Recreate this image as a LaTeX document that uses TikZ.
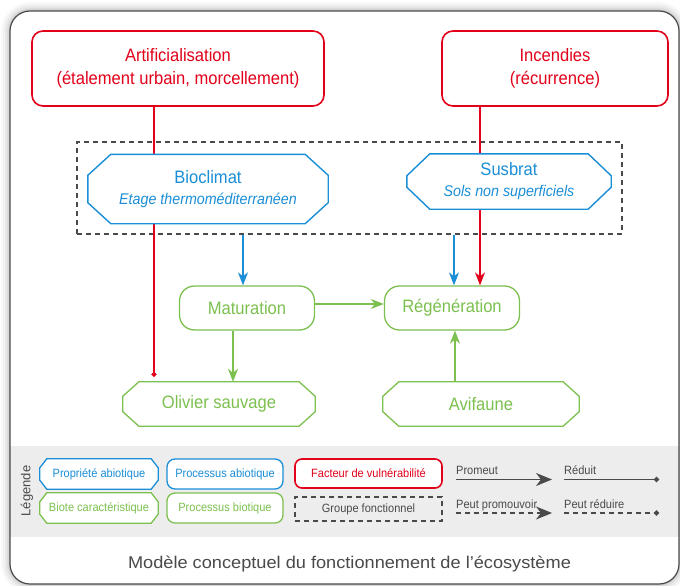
\documentclass[tikz,border=0pt]{standalone}
\usepackage{fontspec}
\setmainfont{Liberation Sans}[FakeStretch=0.92]
\newfontfamily\capfont{Liberation Sans}[FakeStretch=1.07]
\newfontfamily\legfont{Liberation Sans}
\usetikzlibrary{arrows.meta,calc}
\definecolor{cred}{HTML}{E2001A}
\definecolor{cblue}{HTML}{1A8ED6}
\definecolor{cgreen}{HTML}{7CC04F}
\definecolor{cgrey}{HTML}{4A4A4A}
\definecolor{cband}{HTML}{EDEDED}
\pgfdeclarelayer{bg}
\pgfdeclarelayer{edges}
\pgfdeclarelayer{shapes}
\pgfsetlayers{bg,edges,shapes,main}
\newcommand\chamf[5]{% node, colour, hx, vy, width
  \begin{pgfonlayer}{shapes}
  \path[draw=#2, fill=white, line width=#5, line join=miter]
    ([xshift=#3]#1.north west) -- ([xshift=-#3]#1.north east)
    -- ([yshift=-#4]#1.north east) -- ([yshift=#4]#1.south east)
    -- ([xshift=-#3]#1.south east) -- ([xshift=#3]#1.south west)
    -- ([yshift=#4]#1.south west) -- ([yshift=-#4]#1.north west) -- cycle;
  \end{pgfonlayer}}
\begin{document}
\begin{tikzpicture}[x=1pt,y=-1pt,
  big/.style={font=\fontsize{18}{23.5}\selectfont, align=center, inner sep=0pt},
  mid/.style={font=\fontsize{18}{21}\selectfont, align=center, inner sep=0pt},
  small/.style={font=\fontsize{12}{14}\selectfont, align=center, inner sep=0pt},
  redbox/.style={draw=cred, text=cred, line width=1.6pt, fill=white},
  bluebox/.style={draw=cblue, text=cblue, line width=1.4pt, fill=white},
  greenbox/.style={draw=cgreen, text=cgreen, line width=1.3pt, fill=white},
  conn/.style={line width=1.3pt},
  arr/.style={conn, -{Stealth[length=13pt,width=10pt,inset=4pt]}},
  bigarr/.style={conn, -{Stealth[length=16pt,width=13pt,inset=5pt]}},
  dotend/.style={conn, -{Circle[length=5pt]}},
  ldash/.style={dash pattern=on 5pt off 4pt}
]
\useasboundingbox (0,0) rectangle (680,586);

% ---------- frame, band, group box ----------
\begin{pgfonlayer}{bg}
  \foreach \d/\r/\o in {9/29/0.025,7/27/0.03,5/25/0.04,3/23/0.05,1.5/21.5/0.06}
    \fill[black, opacity=\o, rounded corners=\r] (10-\d,11-\d) rectangle (679+\d,584+\d);
  \fill[white, rounded corners=20] (10,11) rectangle (679,584);
  \fill[cband] (10,446) rectangle (679,537);
  \draw[cgrey, line width=1.2pt, rounded corners=20] (10,11) rectangle (679,584);
  \node[draw=cgrey, ldash, line width=1.2pt, minimum width=545pt, minimum height=92pt, inner sep=0pt] (grp) at (349.5,188) {};
\end{pgfonlayer}

% ---------- main nodes ----------
\node[big, redbox, rounded corners=11pt, minimum width=292pt, minimum height=75pt] (art) at (178,68.5)
  {Artificialisation\\(étalement urbain, morcellement)};
\node[big, redbox, rounded corners=11pt, minimum width=226pt, minimum height=75pt] (inc) at (555,68.5)
  {Incendies\\(récurrence)};

\node[mid, text=cblue, minimum width=240pt, minimum height=69pt] (bio) at (208,189)
  {Bioclimat\\{\itshape\fontsize{15.5}{18}\selectfont Etage thermoméditerranéen}};
\chamf{bio}{cblue}{23}{21}{1.4pt}
\node[mid, text=cblue, minimum width=204pt, minimum height=55pt] (sus) at (509,181.5)
  {Susbrat\\{\itshape\fontsize{15.5}{18}\selectfont Sols non superficiels}};
\chamf{sus}{cblue}{23}{22}{1.4pt}

\node[big, greenbox, rounded corners=15pt, minimum width=135pt, minimum height=44pt] (mat) at (247,308) {Maturation};
\node[big, greenbox, rounded corners=15pt, minimum width=135pt, minimum height=44pt] (reg) at (452,308) {Régénération};

\node[big, text=cgreen, minimum width=192pt, minimum height=44pt] (oli) at (219,404) {Olivier sauvage};
\chamf{oli}{cgreen}{16}{14.5}{1.3pt}
\node[big, text=cgreen, minimum width=196pt, minimum height=44pt] (avi) at (481,404) {Avifaune};
\chamf{avi}{cgreen}{16}{14.5}{1.3pt}

% ---------- connectors ----------
\begin{pgfonlayer}{edges}
  \draw[dotend, cred] ([xshift=-24]art.south) -- ([xshift=-24,yshift=5]art.south |- oli.north);
  \draw[arr, cred] ([xshift=28]reg.north |- inc.south) -- ([xshift=28]reg.north);
  \draw[arr, cblue] ([xshift=-4]mat.north |- grp.south) -- ([xshift=-4]mat.north);
  \draw[arr, cblue] ([xshift=2]reg.north |- grp.south) -- ([xshift=2]reg.north);
  \draw[arr, cgreen] ([yshift=4]mat.east) -- ([yshift=4]mat.east -| reg.west);
  \draw[arr, cgreen] ([xshift=-14]mat.south) -- ([xshift=-14]mat.south |- oli.north);
  \draw[arr, cgreen] ([xshift=3]reg.south |- avi.north) -- ([xshift=3]reg.south);
\end{pgfonlayer}

% ---------- legend ----------
\node[rotate=90, font=\legfont\fontsize{13}{13}\selectfont, text=cgrey, inner sep=0pt] (leg) at (27,491) {Légende};

\node[small, text=cblue, minimum width=118pt, minimum height=30pt] (pab) at (99,474) {Propriété abiotique};
\chamf{pab}{cblue}{7}{9}{1.3pt}
\node[small, bluebox, line width=1.3pt, rounded corners=8pt, minimum width=116pt, minimum height=30pt] (prab) at (225,474) {Processus abiotique};
\node[small, text=cgreen, minimum width=118pt, minimum height=30pt] (bio2) at (99,508) {Biote caractéristique};
\chamf{bio2}{cgreen}{7}{9}{1.3pt}
\node[small, greenbox, rounded corners=8pt, minimum width=116pt, minimum height=30pt] (prbi) at (225,508) {Processus biotique};
\node[small, redbox, rounded corners=7pt, minimum width=147pt, minimum height=29pt] (fv) at (368.5,473.5) {Facteur de vulnérabilité};
\node[small, draw=cgrey, text=cgrey, ldash, line width=1.2pt, minimum width=147pt, minimum height=24pt] (gf) at (368.5,509) {Groupe fonctionnel};

\node[small, text=cgrey, anchor=base west] (lprom) at (456,474) {Promeut};
\node[small, text=cgrey, anchor=base west] (lred) at (564,474) {Réduit};
\node[small, text=cgrey, anchor=base west] (lpp) at (456,508) {Peut promouvoir};
\node[small, text=cgrey, anchor=base west] (lpr) at (564,508) {Peut réduire};
\coordinate (a1) at (456,479.5);
\coordinate (a2) at (552,479.5);
\coordinate (b1) at (564,479.5);
\coordinate (b2) at (659,479.5);
\coordinate (c1) at (456,513);
\coordinate (c2) at (552,513);
\coordinate (d1) at (564,513);
\coordinate (d2) at (659,513);
\draw[bigarr, cgrey] (a1) -- (a2);
\draw[dotend, cgrey] (b1) -- (b2);
\draw[bigarr, cgrey, ldash] (c1) -- (c2);
\draw[dotend, cgrey, ldash] (d1) -- (d2);

% ---------- caption ----------
\node[font=\capfont\fontsize{17}{17}\selectfont, text=cgrey, anchor=base, inner sep=0pt] (cap) at (349.5,568)
  {Modèle conceptuel du fonctionnement de l’écosystème};
\end{tikzpicture}
\end{document}
